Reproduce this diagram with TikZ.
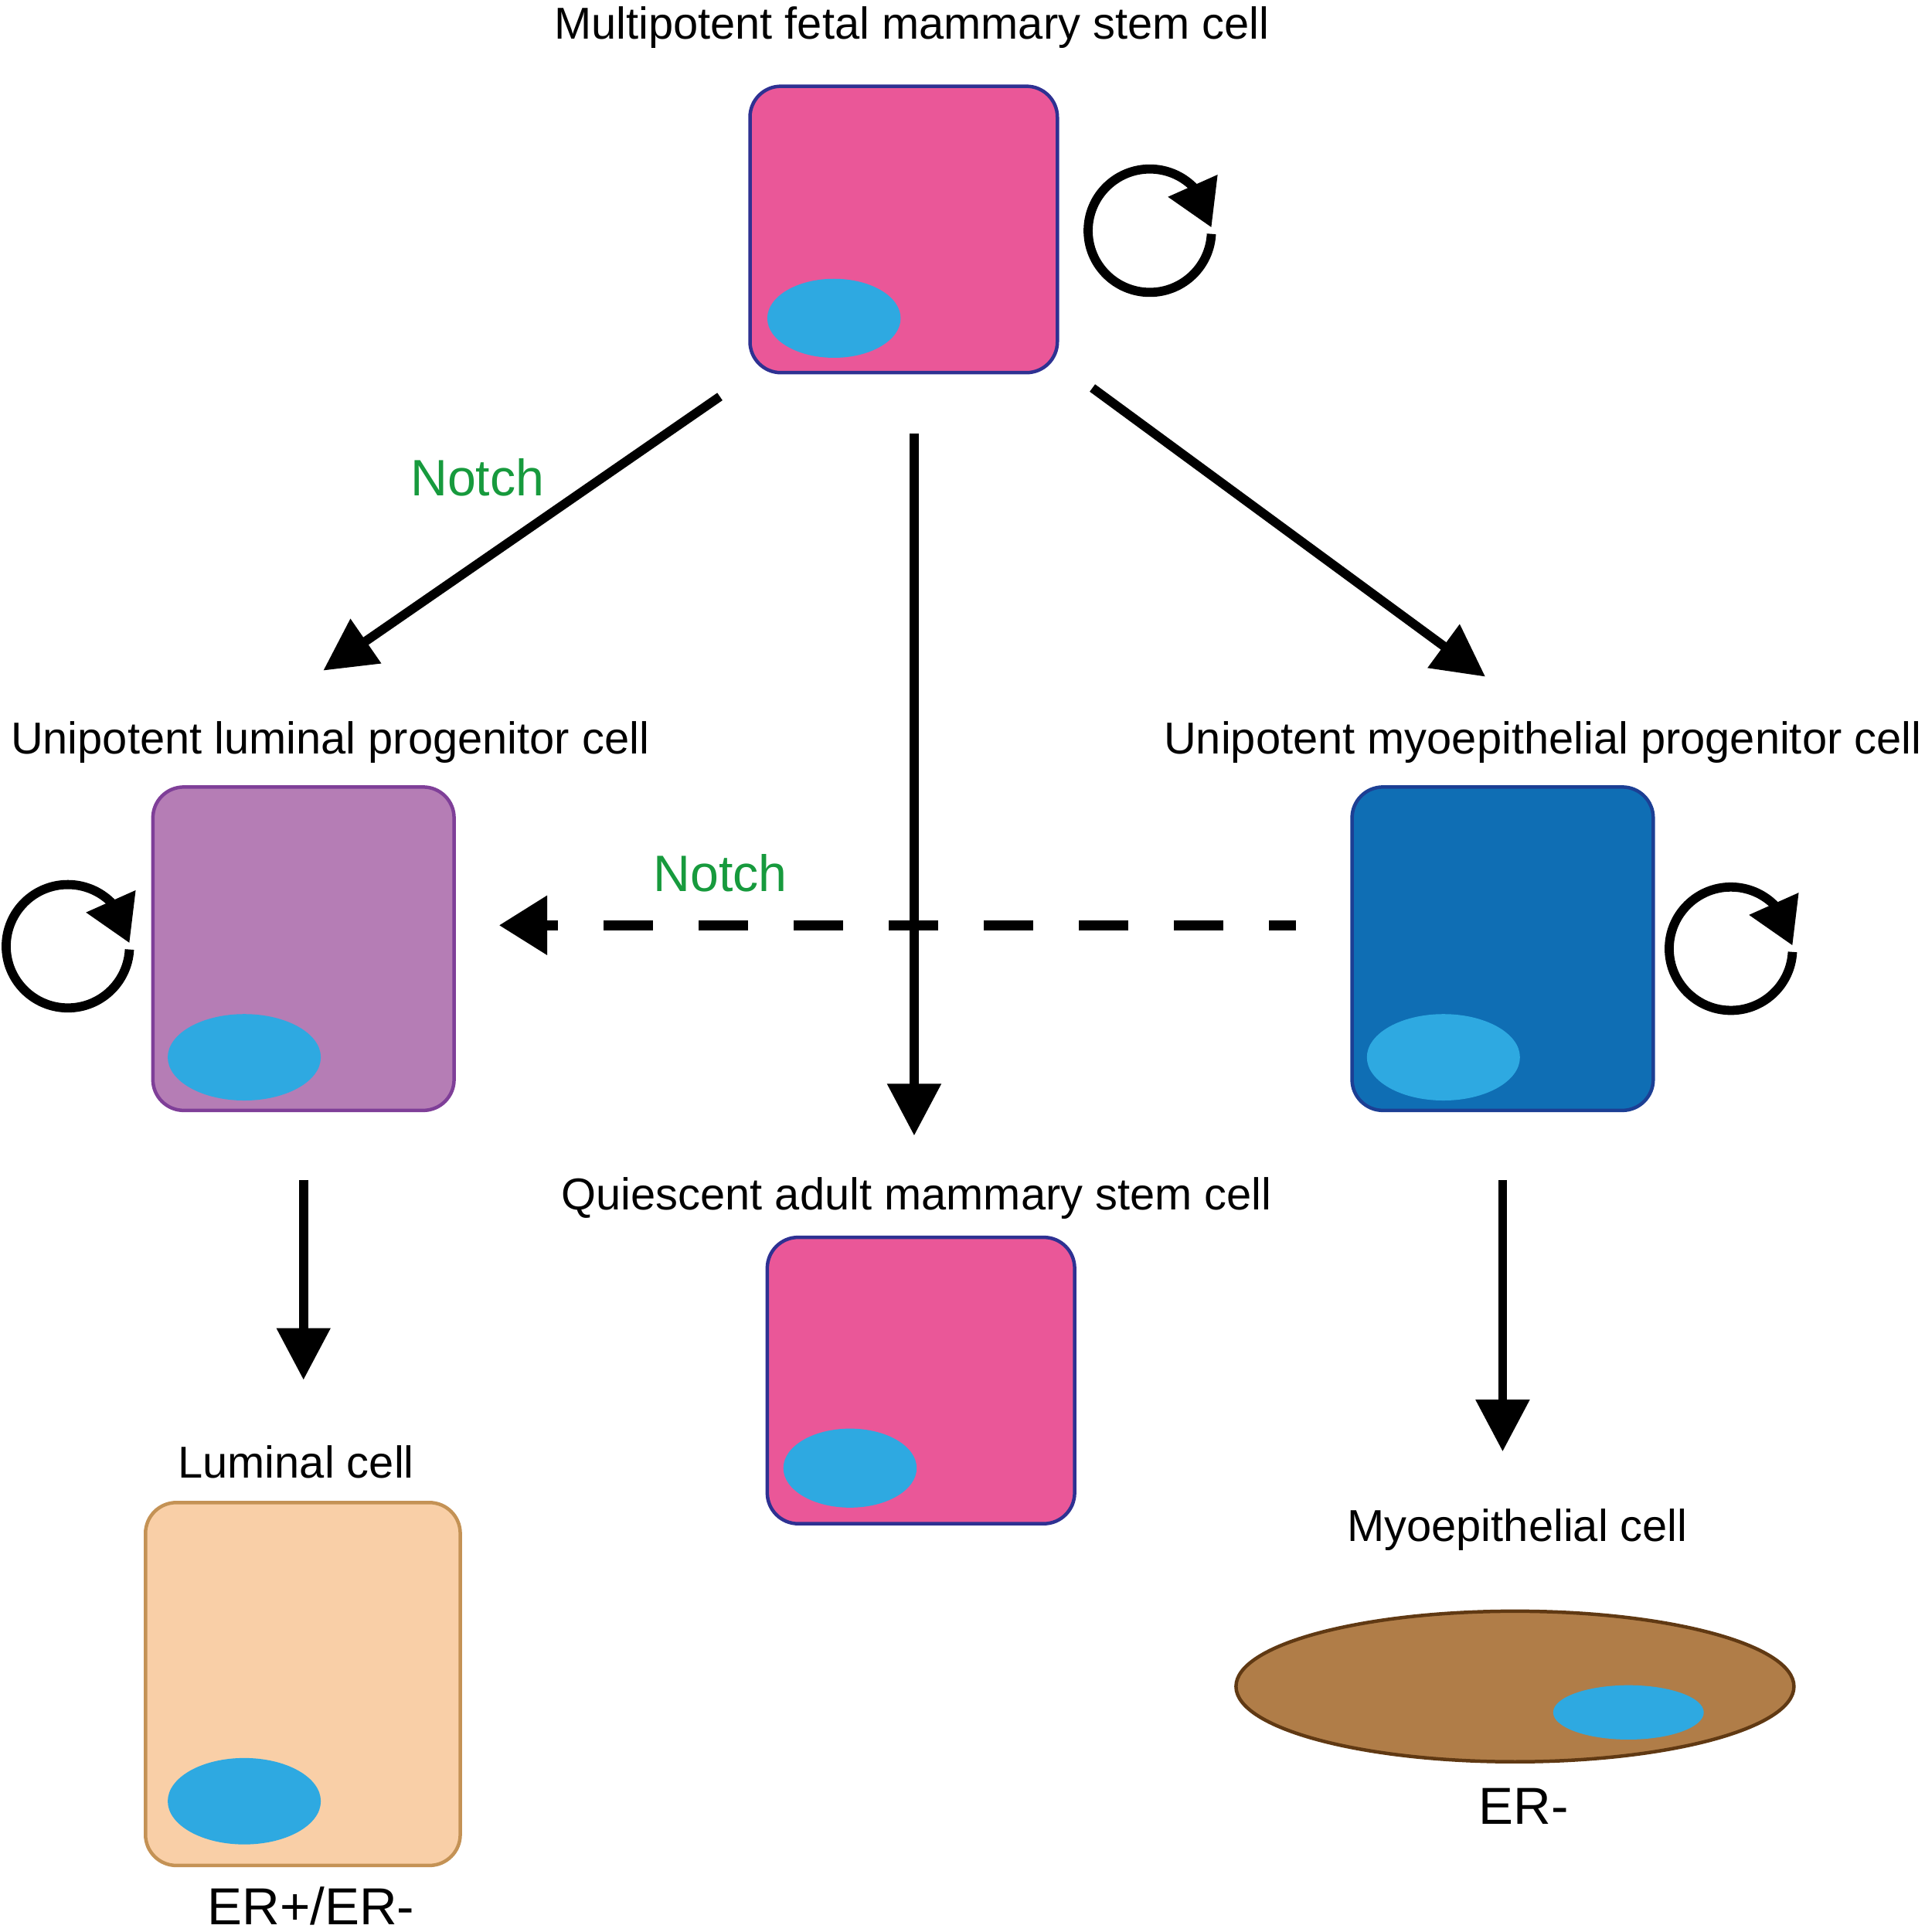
\documentclass[tikz,border=0pt]{standalone}
\usepackage{fontspec}
\setmainfont{Liberation Sans}
\usepackage{tikz}
\usetikzlibrary{shapes.geometric,arrows.meta,bending}
\definecolor{stempink}{HTML}{EA5798}
\definecolor{stemedge}{HTML}{2E3192}
\definecolor{nucleus}{HTML}{2EA9E1}
\definecolor{lumprog}{HTML}{B57DB5}
\definecolor{lumprogedge}{HTML}{7F3F98}
\definecolor{myoprog}{HTML}{0F6EB4}
\definecolor{myoprogedge}{HTML}{1C3F94}
\definecolor{luminal}{HTML}{F9CFA7}
\definecolor{luminaledge}{HTML}{C49255}
\definecolor{myoepi}{HTML}{B07D48}
\definecolor{myoepiedge}{HTML}{603913}
\definecolor{notch}{HTML}{179A3D}
\tikzstyle{cellbox}=[rectangle, rounded corners=0.25cm, draw, line width=0.8pt, inner sep=0pt, minimum width=2.49cm, minimum height=2.32cm]
\tikzstyle{progbox}=[cellbox, minimum width=2.44cm, minimum height=2.62cm]
\tikzstyle{nucleus}=[ellipse, fill=nucleus, inner sep=0pt]
\tikzstyle{celltext}=[font=\fontsize{10.3}{12}\selectfont, inner sep=0pt]
\tikzstyle{notchtext}=[font=\fontsize{11.8}{14}\selectfont, text=notch, inner sep=0pt]
\tikzstyle{ertext}=[font=\fontsize{12}{14}\selectfont, inner sep=0pt]
\tikzstyle{growarrow}=[line width=2.1pt, -{Triangle[length=0.42cm, width=0.42cm]}]
\tikzstyle{renew}=[line width=2.1pt, -{Triangle[length=0.37cm, width=0.42cm, flex]}]
\newcommand{\mcell}[5]{
	\node[#5, fill=#3, draw=#4] (#1) at (#2) {};}
\newcommand{\nucleus}[4]{
	\node[nucleus, minimum width=#3, minimum height=#4] (#1) at (#2) {};}
\newcommand{\selfloop}[2]{
	\coordinate (#1) at (#2);
	\draw[renew] (#1) ++(-3:50) arc[start angle=-3, end angle=-357, radius=50];}
\begin{document}
\begin{tikzpicture}[x=0.01cm, y=0.01cm]
\useasboundingbox (0,0) rectangle (1560,1566);
% fetal stem cell
\node[celltext] (fetaltext) at (739,1544) {Multipotent fetal mammary stem cell};
\mcell{fetal}{732.5,1380}{stempink}{stemedge}{cellbox}
\nucleus{fetalnuc}{676,1308}{1.08cm}{0.64cm}
\selfloop{fetalloop}{932,1379}
% progenitors
\node[celltext] (lumprogtext) at (267.5,964) {Unipotent luminal progenitor cell};
\mcell{lumprog}{246,797}{lumprog}{lumprogedge}{progbox}
\nucleus{lumprognuc}{198,709}{1.24cm}{0.70cm}
\selfloop{lumprogloop}{55,799}
\node[celltext] (myoprogtext) at (1250.5,964) {Unipotent myoepithelial progenitor cell};
\mcell{myoprog}{1218,797}{myoprog}{myoprogedge}{progbox}
\nucleus{myoprognuc}{1170,709}{1.24cm}{0.70cm}
\selfloop{myoprogloop}{1403,797}
% quiescent stem cell
\node[celltext] (quiestext) at (743,595) {Quiescent adult mammary stem cell};
\mcell{quies}{746.5,447}{stempink}{stemedge}{cellbox}
\nucleus{quiesnuc}{689,376}{1.08cm}{0.64cm}
% differentiated cells
\node[celltext] (luminaltext) at (240,381) {Luminal cell};
\mcell{luminal}{245.5,201}{luminal}{luminaledge}{cellbox, minimum width=2.55cm, minimum height=2.94cm}
\nucleus{luminalnuc}{198,106}{1.24cm}{0.70cm}
\node[ertext] (luminaler) at (252,21) {ER+/ER-};
\node[celltext] (myoepitext) at (1230,326) {Myoepithelial cell};
\node[ellipse, draw=myoepiedge, line width=0.8pt, fill=myoepi, inner sep=0pt, minimum width=4.52cm, minimum height=1.22cm] (myoepi) at (1228,199) {};
\nucleus{myoepinuc}{1320,178}{1.22cm}{0.44cm}
\node[ertext] (myoepier) at (1235,102) {ER-};
% arrows
\draw[growarrow] ([shift={(-23,-18)}]fetal.south west) -- ([shift={(16,93)}]lumprog.north);
\draw[growarrow] ([shift={(8.5,-48)}]fetal.south) -- ([shift={(-5.5,81)}]quies.north);
\draw[growarrow] ([shift={(27,-11)}]fetal.south east) -- ([shift={(-14,88)}]myoprog.north);
\draw[line width=2.4pt, dash pattern=on 0.40cm off 0.37cm, dash phase=0.18cm, -{Triangle[length=0.39cm, width=0.46cm]}] ([shift={(-44,19)}]myoprog.west) -- ([shift={(35,19)}]lumprog.east);
\draw[growarrow] ([shift={(0,-55)}]lumprog.south) -- ([shift={(0.5,98)}]luminal.north);
\draw[growarrow] ([shift={(0,-55)}]myoprog.south) -- ([shift={(-10,128)}]myoepi.north);
\node[notchtext] (notchleft) at (387,1179) {Notch};
\node[notchtext] (notchmid) at (584,858) {Notch};
\end{tikzpicture}
\end{document}
